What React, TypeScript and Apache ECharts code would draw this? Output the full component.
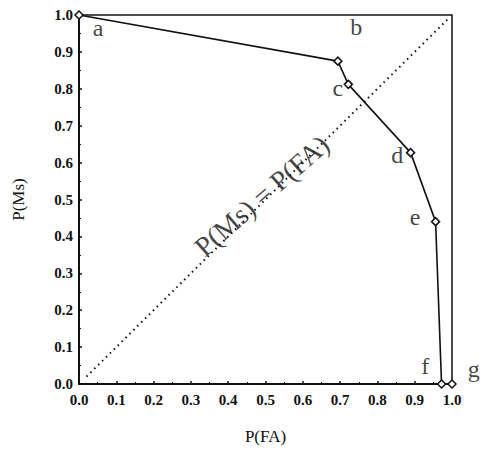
import React, { useEffect, useRef } from "react";
import * as echarts from "echarts";

const curveX = [0.0, 0.694, 0.722, 0.889, 0.956, 0.972, 1.0];
const curveY = [1.0, 0.875, 0.812, 0.627, 0.44, 0.0, 0.0];
const diagX = [0.02, 0.99];
const diagY = [0.02, 0.99];
const pointLetters = ["a", "b", "c", "d", "e", "f", "g"];
const letterX = [0.051, 0.743, 0.694, 0.853, 0.901, 0.928, 1.058];
const letterY = [0.965, 0.967, 0.802, 0.621, 0.453, 0.048, 0.04];
const diagLabel = "P(Ms) = P(FA)";
const diagLabelPos = [0.49, 0.51];
const xTitle = "P(FA)";
const yTitle = "P(Ms)";

const FONT = "'Liberation Serif', 'DejaVu Serif', serif";
const INK = "#111";

export default function App() {
  const ref = useRef<HTMLDivElement>(null);
  useEffect(() => {
    if (!ref.current) return;
    const chart = echarts.init(ref.current, undefined, { renderer: "svg" });
    const tickLabel = {
      color: INK,
      fontFamily: FONT,
      fontSize: 15,
      fontWeight: "bold" as const,
      formatter: (v: number) => v.toFixed(1),
    };
    chart.setOption({
      animation: false,
      backgroundColor: "#fff",
      grid: { left: 79, top: 15, width: 373, height: 369, show: true, borderColor: INK, borderWidth: 1.5 },
      xAxis: {
        type: "value",
        min: 0,
        max: 1,
        interval: 0.1,
        name: xTitle,
        nameLocation: "middle",
        nameGap: 44,
        nameTextStyle: { color: INK, fontFamily: FONT, fontSize: 17 },
        axisLine: { show: true, onZero: false, lineStyle: { color: INK, width: 2 } },
        axisTick: { show: true, inside: true, length: 3, lineStyle: { color: INK, width: 1.5 } },
        minorTick: { show: true, splitNumber: 2, length: 2, lineStyle: { color: INK } },
        axisLabel: { ...tickLabel, margin: 8 },
        splitLine: { show: false },
      },
      yAxis: {
        type: "value",
        min: 0,
        max: 1,
        interval: 0.1,
        name: yTitle,
        nameLocation: "middle",
        nameGap: 52,
        nameTextStyle: { color: INK, fontFamily: FONT, fontSize: 17 },
        axisLine: { show: true, onZero: false, lineStyle: { color: INK, width: 2 } },
        axisTick: { show: true, inside: true, length: 3, lineStyle: { color: INK, width: 1.5 } },
        minorTick: { show: true, splitNumber: 2, length: 2, lineStyle: { color: INK } },
        axisLabel: { ...tickLabel, margin: 6 },
        splitLine: { show: false },
      },
      series: [
        {
          type: "line",
          data: diagX.map((x, i) => [x, diagY[i]]),
          symbol: "none",
          lineStyle: { color: INK, width: 2, type: [1.5, 4] },
          z: 2,
        },
        {
          type: "line",
          data: curveX.map((x, i) => [x, curveY[i]]),
          symbol: "diamond",
          symbolSize: 8,
          showAllSymbol: true,
          clip: false,
          itemStyle: { color: "#fff", borderColor: INK, borderWidth: 1.5 },
          lineStyle: { color: INK, width: 1.6 },
          z: 3,
        },
        {
          type: "scatter",
          clip: false,
          data: letterX.map((x, i) => ({ value: [x, letterY[i]], name: pointLetters[i] })),
          symbolSize: 0,
          label: {
            show: true,
            position: "inside",
            formatter: (p: any) => p.name,
            color: INK,
            fontFamily: FONT,
            fontSize: 24,
          },
          z: 4,
        },
        {
          type: "scatter",
          clip: false,
          data: [{ value: diagLabelPos, name: diagLabel }],
          symbolSize: 0,
          label: {
            show: true,
            position: "inside",
            formatter: (p: any) => p.name,
            color: INK,
            fontFamily: FONT,
            fontSize: 28,
            rotate: 41,
            align: "center",
            verticalAlign: "middle",
          },
          z: 4,
        },
      ],
    });
    return () => chart.dispose();
  }, []);
  return <div ref={ref} style={{ position: "fixed", left: 0, top: 0, width: 480, height: 453 }} />;
}
